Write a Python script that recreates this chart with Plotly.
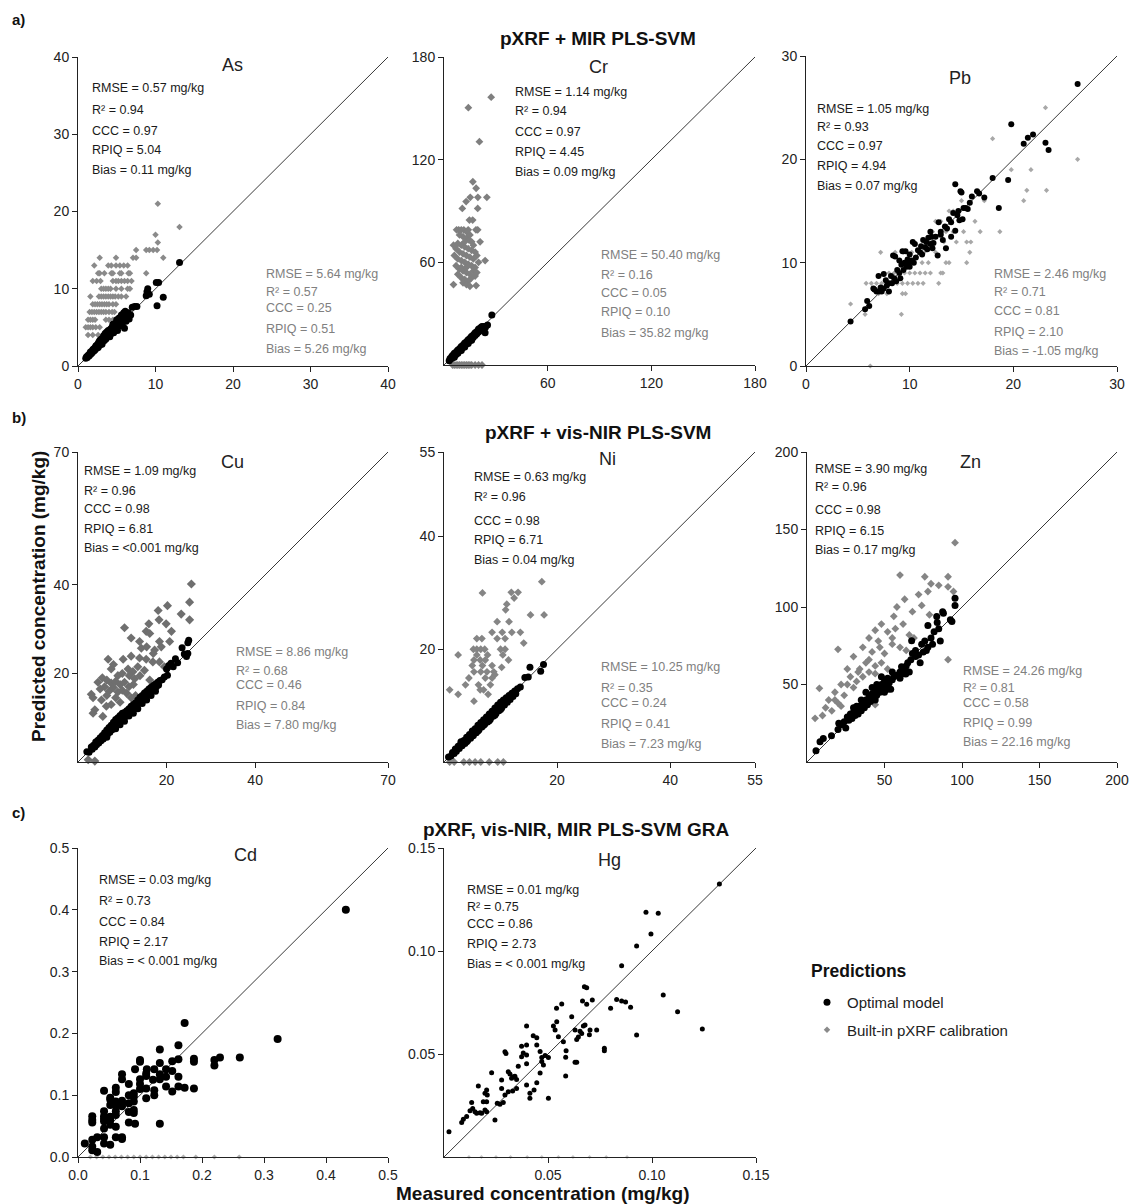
import plotly.graph_objects as go

W, H = 1130, 1204
FONT = "Liberation Sans, Arial, sans-serif"

# ---------------- data (measured, predicted) ----------------
AS_OPT = [(1.0,1.0),(1.1,1.2),(1.2,1.1),(1.3,1.4),(1.4,1.3),(1.5,1.6),(1.5,1.4),(1.6,1.8),(1.7,1.6),(1.8,1.9),
          (1.8,1.7),(1.9,2.1),(2.0,1.9),(2.0,2.2),(2.1,2.0),(2.2,2.4),(2.2,2.1),(2.3,2.6),(2.4,2.3),(2.4,2.7),
          (2.5,2.5),(2.6,2.9),(2.6,2.4),(2.7,3.1),(2.8,2.7),(2.8,3.3),(2.9,2.9),(3.0,3.5),(3.0,3.0),(3.1,2.8),
          (3.2,3.6),(3.2,3.2),(3.3,3.9),(3.4,3.3),(3.5,3.8),(3.5,4.2),(3.6,3.5),(3.7,4.4),(3.8,3.8),(3.9,4.6),
          (4.0,4.0),(4.0,4.4),(4.1,3.8),(4.2,4.8),(4.3,4.2),(4.4,5.0),(4.5,4.5),(4.5,5.4),(4.6,4.3),(4.7,5.1),
          (4.8,4.8),(4.9,5.6),(5.0,5.0),(5.0,6.0),(5.1,4.6),(5.2,5.5),(5.3,6.2),(5.4,5.2),(5.5,5.8),(5.6,6.6),
          (5.7,5.4),(5.8,6.1),(5.9,6.9),(6.0,4.9),(6.0,6.3),(6.1,7.1),(6.2,5.8),(6.3,6.5),(6.5,6.9),(6.6,6.1),
          (6.8,6.6),(7.0,7.6),(7.3,7.7),(7.6,7.7),(8.8,9.1),(9.0,10.0),(9.2,9.3),(8.9,9.6),(10.1,10.8),(10.4,10.8),
          (10.2,7.8),(11.0,8.9),(13.1,13.4)]
AS_REF = [(10.3,21),(13.1,18),(10.0,17),(10.3,16),(7.5,15),(8.8,15),(9.2,15),(9.7,15),(10.2,15),
          (2.8,14),(4.9,14),(7.1,14),(7.5,14),(11.0,14),
          (2.1,13),(3.9,13),(4.3,13),(4.9,13),(5.4,13),(5.9,13),(6.4,13),
          (2.6,12),(2.8,12),(3.4,12),(4.3,12),(4.5,12),(5.4,12),(5.6,12),(6.5,12),(6.7,12),(8.8,12),
          (1.9,11),(2.4,11),(2.9,11),(4.5,11),(4.9,11),(5.2,11),(5.6,11),(6.0,11),(6.4,11),(6.9,11),
          (3.0,10),(3.3,10),(3.6,10),(3.9,10),(4.2,10),(4.9,10),(5.6,10),(6.4,10),(6.7,10),
          (1.6,9),(2.7,9),(3.0,9),(3.3,9),(3.6,9),(3.9,9),(4.2,9),(4.5,9),(4.8,9),(5.2,9),(5.6,9),(6.2,9),
          (1.9,8),(2.2,8),(2.5,8),(2.8,8),(3.1,8),(3.4,8),(3.7,8),(4.0,8),(4.5,8),(4.9,8),
          (1.5,7),(1.8,7),(2.1,7),(2.4,7),(2.7,7),(3.0,7),(3.3,7),(3.6,7),(4.0,7),(4.4,7),(4.7,7),
          (1.3,6),(1.6,6),(1.9,6),(2.2,6),(3.6,6),(4.0,6),(4.5,6),
          (1.0,5),(1.3,5),(1.6,5),(1.9,5),(2.3,5),(2.8,5),(1.3,4),(1.9,4),(2.6,4)]

CR_OPT = [(3,2.5),(3.5,3.8),(4,3.5),(4.5,5),(5,4.2),(5,5.5),(5.5,6),(6,5.2),(6,6.8),(6.5,6),(7,7.5),(7,6.2),
          (7.5,8),(8,7.2),(8,8.8),(8.5,8),(9,9.5),(9,8.2),(9.5,10),(10,9.2),(10,10.8),(10.5,10),(11,11.5),
          (11,10.2),(11.5,12),(12,11.3),(12,12.8),(12.5,12),(13,13.5),(13,12.2),(13.5,14),(14,13.2),(14,14.8),
          (14.5,14),(15,15.5),(15,14.2),(15.5,16),(16,15.3),(16,16.8),(16.5,16),(17,17.5),(17,16.2),(17.5,18),
          (18,17.3),(18,18.8),(18.5,18),(19,19.5),(19,18.2),(19.5,20),(20,19.3),(20,21),(20.5,20.2),(21,21.5),
          (21,20.2),(21.5,22),(22,21.3),(22,22.5),(23,22.3),(23.5,22.5),(24,22),(23.8,18.9),(25.2,23.4),
          (27.7,29.2),(6,4.5),(8,6.8),(10,8.5),(12,10.5),(14,12.5),(16,14.5)]
CR_REF = [(27.3,156.5),(14.1,150.4),(20.5,130.5),(16.7,107.1),(18.6,103.3),(24.8,98),(15.2,98),(19.6,98),
          (12.8,95.5),(10.6,91.5),(19.5,91.5),(14.7,84.7),(16.6,84.7),(7.3,79),(8.5,79),(10,79),(11.5,79),
          (13,78),(14,79),(18.5,79),(19.5,79),(20.9,72),(9,76),(11,75),(13,74),(14.5,73),(16,72),(8,71),
          (10,70),(12,69),(14,68),(16,67),(18,66),(5.5,70),(7,68),(9,66),(11,65),(13,64),(15,63),(17,62),
          (19,64),(23.8,61),(8,62),(10,61),(12,60),(14,59),(16,58),(18,57),(7,58),(9,56),(11,55),(13,54),
          (15,53),(17,55),(19,54),(8,53),(10,51),(12,50),(14,49),(16,51),(18,52),(5.5,47),(11,48),(13,47),
          (15,46),(18.6,46.4),(20,60),(6,64),(12,72),(15,76),(17,70),(10,57),(13,57),
          (5,0),(6,0),(7,0),(8,0),(9,0),(10,0),(11,0),(12,0),(13,0),(14,0),(15,0),(16,0),(18,0),(20,0),(22,0)]

PB_OPT = [(4.3,4.3),(5.7,5.5),(5.9,6.3),(6.1,5.8),(6.5,7.5),(6.8,7.2),(6.6,7.4),(7.0,8.7),(7.0,7.2),(7.2,7.6),
          (7.3,7.2),(7.5,8.9),(7.5,7.5),(7.7,8.3),(7.8,7.8),(8.0,8.0),(8.0,7.2),(8.2,8.7),(8.3,8.0),(8.4,10.7),
          (8.5,8.5),(8.6,10.6),(8.7,8.2),(8.8,9.3),(9.0,9.0),(9.0,10.2),(9.1,8.5),(9.2,9.8),(9.3,11.1),(9.4,9.3),
          (9.5,10.0),(9.6,11.1),(9.7,9.6),(9.8,10.3),(9.9,9.9),(10.0,10.8),(10.0,9.6),(10.2,10.2),(10.3,12.0),
          (10.4,10.0),(10.5,11.8),(10.6,10.5),(10.8,11.2),(11.0,11.0),(11.1,11.6),(11.2,10.8),(11.3,12.2),
          (11.5,11.5),(11.6,12.0),(11.7,11.3),(11.8,12.4),(12.0,11.8),(12.0,13.0),(12.1,12.5),(12.2,11.4),
          (12.3,11.9),(12.5,12.5),(12.7,10.7),(12.8,13.9),(13.0,13.0),(13.0,12.7),(13.2,12.2),(13.4,13.5),
          (13.5,11.4),(13.6,13.3),(13.8,14.2),(14.0,12.5),(14.0,13.9),(14.2,14.8),(14.4,13.1),(14.4,17.6),
          (14.6,14.6),(14.7,15.0),(14.8,14.1),(14.9,16.9),(15.0,16.8),(15.1,14.2),(15.2,15.3),(15.4,15.3),
          (15.6,15.2),(15.8,15.8),(16.0,16.4),(16.5,16.9),(16.7,16.7),(17.2,16.3),(18.0,18.2),(18.6,15.3),
          (19.5,18.0),(19.8,23.4),(21.0,21.5),(21.4,22.1),(21.9,22.4),(23.1,21.6),(23.4,20.9),(26.2,27.3)]
PB_REF = [(4.3,6),(5.7,5),(9.2,5),(6.2,0),(7,7),(7.8,7),(9.3,7),(9.6,7),
          (5.8,8),(6.3,8),(6.8,8),(7.3,8),(7.8,8),(8.3,8),(8.8,8),(9.3,8),(9.8,8),(10.3,8),(10.8,8),(11.3,8),(12.8,8),
          (8.0,9),(8.5,9),(9.5,9),(10.0,9),(10.5,9),(11.0,9),(11.5,9),(12.0,9),(13.0,9),(13.2,9),
          (9.2,10),(10.0,10),(11.2,10),(11.8,10),(13.5,10),(13.8,10),(15.5,10),
          (7.2,11),(8.6,11),(9.4,11),(10.2,11),(11.4,11),(12.5,11),(15.8,11),
          (12.1,12),(13.3,12),(14.5,12),(15.5,12),(15.9,12),
          (12.2,13),(13.5,13),(14.2,13),(15.2,13),(16.8,13),(18.7,13),
          (12.5,14),(13.0,14),(14.0,14),(16.3,14),(13.8,15),(14.2,15),(15,16),(17.2,16),(21,16),
          (21.3,17),(23.2,17),(19.8,19),(21.7,19),(26.2,20),(18.0,22),(23.1,25)]

CU_OPT = [(2.0,2.3),(2.5,2.2),(3.0,3.4),(3.2,2.9),(3.5,3.8),(3.8,3.4),(4.0,4.5),(4.2,3.9),(4.5,4.9),(4.7,4.3),
          (5.0,5.5),(5.2,4.8),(5.5,6.0),(5.7,5.2),(6.0,6.6),(6.2,5.8),(6.5,7.2),(6.7,6.3),(7.0,7.8),(7.2,6.7),
          (7.5,8.3),(7.7,7.3),(8.0,9.0),(8.2,7.8),(8.5,9.6),(8.7,8.3),(9.0,10.0),(9.2,8.8),(9.5,10.5),(9.7,9.3),
          (10.0,11.0),(10.2,9.8),(10.5,11.2),(10.7,10.3),(11.0,11.6),(11.2,10.6),(11.5,12.0),(11.7,11.2),
          (12.0,12.6),(12.2,11.6),(12.5,13.0),(12.7,12.2),(13.0,13.4),(13.2,12.6),(13.5,14.0),(13.7,13.2),
          (14.0,14.6),(14.2,13.7),(14.5,15.0),(14.7,14.2),(15.0,15.6),(15.2,14.6),(15.5,16.0),(15.7,15.1),
          (16.0,16.5),(16.2,15.6),(16.5,16.9),(16.7,16.2),(17.0,17.3),(17.2,16.6),(17.5,17.6),(17.7,17.0),
          (18.0,18.0),(18.2,17.4),(18.5,18.4),(19.0,18.6),(19.5,19.2),(20.0,21.0),(20.2,19.6),(20.5,21.8),
          (21.0,22.3),(21.5,21.5),(22.0,23.3),(22.5,22.4),(23.5,25.8),(24.0,24.4),(24.5,23.8),(24.8,24.5),
          (24.8,26.9),(25.0,27.5),(8.5,7.5),(10.5,9.2),(12.5,11.0),(14.5,13.2),(16.5,15.0),(6.5,5.6),
          (9.5,8.4),(11.5,10.4),(13.5,12.0),(15.5,14.0),(17.5,16.0)]
CU_REF = [(25.6,40.2),(25.2,36.1),(20.2,35.3),(18.1,34.2),(23.3,33.4),(25.2,32.1),(18.3,32.1),(16.0,31.2),
          (19.9,31.2),(10.5,30.3),(15.4,29.5),(16.2,29.0),(21.1,29.5),(12.0,28.0),(13.9,27.2),(14.3,25.7),
          (18.4,27.2),(20.7,27.2),(17.3,25.3),(18.8,26.0),(6.8,23.2),(10.2,23.2),(12.0,23.9),(13.9,23.5),
          (15.4,23.2),(16.9,22.6),(18.4,22.6),(7.5,21.0),(11.3,21.0),(12.4,20.4),(9.0,19.5),(11.6,19.5),
          (15.0,20.7),(16.2,18.5),(4.5,18.0),(5.5,19.0),(6.5,18.5),(7.5,17.8),(8.5,18.2),(9.5,17.5),
          (10.5,18.0),(11.5,17.0),(12.5,17.5),(5.0,16.5),(6.0,17.0),(7.0,16.0),(8.0,16.8),(9.0,15.8),
          (10.0,16.2),(11.0,15.5),(12.0,14.5),(13.0,15.0),(6.5,15.0),(8.5,14.5),(3.0,15.3),(3.4,14.5),
          (5.3,14.0),(6.4,12.6),(3.8,11.8),(3.4,11.0),(5.6,10.3),(11.3,11.0),(7.5,13.0),(9.5,13.5),
          (14.0,19.5),(13.5,21.5),(17.0,24.5),(15.5,26.0),(2.3,0.5),(3.8,0.2),(8.0,22.0),(10.0,20.0),
          (12.8,18.8),(19.5,21.5)]

NI_OPT = [(0.8,0.9),(1.2,1.0),(1.5,1.7),(1.8,1.5),(2.0,2.3),(2.2,1.9),(2.5,2.8),(2.7,2.4),(3.0,3.3),(3.2,2.9),
          (3.5,3.8),(3.7,3.3),(4.0,4.4),(4.2,3.8),(4.5,4.9),(4.7,4.2),(5.0,5.5),(5.2,4.7),(5.5,5.9),(5.7,5.2),
          (6.0,6.5),(6.2,5.7),(6.5,7.0),(6.7,6.2),(7.0,7.5),(7.2,6.7),(7.5,8.0),(7.7,7.1),(8.0,8.5),(8.2,7.6),
          (8.5,9.0),(8.7,8.1),(9.0,9.6),(9.2,8.6),(9.5,10.1),(9.7,9.1),(10.0,10.6),(10.2,9.6),(10.5,11.0),
          (10.7,10.1),(11.0,11.4),(11.2,10.6),(11.5,11.8),(11.7,11.1),(12.0,12.2),(12.2,11.6),(12.5,12.6),
          (12.7,12.1),(13.0,13.0),(13.5,13.3),(14.3,15.0),(14.9,15.1),(15.2,16.8),(17.1,16.1),(17.6,17.3),
          (3.0,3.6),(4.0,3.6),(5.0,4.6),(6.0,5.5),(7.0,6.5),(8.0,7.3),(9.0,8.3),(10.0,9.3),(6.5,6.5),
          (7.5,7.5),(8.5,8.5),(9.5,9.5),(10.5,10.5)]
NI_REF = [(17.3,32.0),(6.8,30.0),(11.9,30.1),(13.1,30.1),(12.4,29.1),(11.1,28.0),(10.9,27.0),(15.3,26.1),
          (17.7,26.1),(9.4,24.9),(11.5,24.9),(8.5,23.0),(10.3,23.0),(12.0,23.0),(13.5,23.0),(5.8,21.9),
          (6.7,21.9),(9.4,21.9),(10.8,21.9),(14.1,21.1),(5.2,20.0),(5.8,20.0),(6.5,20.0),(7.2,20.0),
          (10.0,20.0),(10.8,20.0),(2.5,19.0),(5.8,19.0),(7.7,19.0),(10.4,19.0),(5.3,18.1),(6.4,18.1),
          (7.3,18.1),(11.4,18.1),(5.0,17.1),(6.8,17.1),(8.5,17.1),(10.2,16.8),(5.3,16.0),(6.5,16.0),
          (7.6,16.0),(8.8,16.0),(9.0,15.5),(4.4,14.9),(7.3,14.9),(8.5,14.9),(3.8,13.7),(6.1,13.7),
          (8.2,13.7),(1.0,12.8),(6.4,12.8),(7.0,12.8),(2.5,12.0),(7.8,12.0),(5.3,10.8),
          (1,0),(1.8,0),(3.5,0),(4.5,0),(5.5,0),(6.5,0),(8,0),(9.5,0),(10.5,0)]

ZN_OPT = [(5.8,7.3),(8.4,13.0),(10.5,15.2),(15.8,16.9),(20,21),(20.5,25),(22,24),(24,26),(25,22),(26,29),
          (27,27),(28,31),(29,28),(30,32),(31,30),(32,34),(33,31),(34,36),(35,33),(36,38),(37,35),(38,40),
          (39,37),(40,42),(41,39),(42,44),(43,41),(44,46),(45,43),(46,48),(47,45),(48,50),(49,47),(50,52),
          (50,45),(51,49),(52,54),(53,51),(54,47),(55,53),(56,55),(58,56),(60,58),(62,57),(63,60),(64,62),
          (65,64),(66,58),(67,66),(68,70),(70,72),(72,69),(74,76),(75,71),(76,78),(78,74),(78,88),(80,80),
          (81,76),(82,84),(84,90),(85,86),(86,78),(88,96),(92.5,91.8),(93.5,90.7),(95.5,105.6),(95.5,101),
          (38,45),(42,48),(30,35),(48,55),(55,58),(45,50),(35,40),(32,36),(44,40),(52,47),(60,54),(70,68),
          (73,64),(77,72),(67.5,78.3),(61,61.5),(63.7,56.7),(50.3,52.9),(87.5,97),(83.7,93.8)]
ZN_REF = [(95.5,141.5),(60,120.6),(76,119.5),(91,119.5),(80,115),(85,114),(91,113),(94.5,110),(78,110),
          (72,108),(63,105),(58,100),(74,101),(68,97),(79,95),(56,94),(48,89),(62,89),(44,85),(52,84),
          (57,86),(66,82),(69,80),(40,80),(46,78),(55,76),(60,74),(64,72),(36,74),(42,71),(50,70),(20,72.7),
          (30,68),(38,64),(44,62),(48,64),(52,60),(40,58),(34,60),(26,60),(28,55),(36,55),(44,57),(22,50),
          (30,48),(8,47.5),(18,45),(24,43),(14,40),(20,38),(12,35),(16,33),(22,36),(5.2,28.2),(10,30),
          (91,66),(44,37),(32,52),(40,66),(55,80),(47,74),(33,58),(26,50),(18,40)]

CD_OPT = [(0.432,0.400),(0.322,0.191),(0.261,0.161),(0.229,0.161),(0.220,0.157),(0.220,0.148),(0.187,0.159),
          (0.187,0.154),(0.187,0.111),(0.172,0.217),(0.162,0.181),(0.162,0.158),(0.172,0.112),(0.152,0.155),
          (0.152,0.106),(0.162,0.130),(0.162,0.114),(0.132,0.174),(0.132,0.152),(0.132,0.134),(0.132,0.126),
          (0.132,0.054),(0.142,0.142),(0.142,0.114),(0.123,0.142),(0.123,0.100),(0.111,0.142),(0.100,0.157),
          (0.100,0.154),(0.110,0.135),(0.110,0.131),(0.100,0.126),(0.100,0.118),(0.110,0.111),(0.110,0.095),
          (0.092,0.142),(0.090,0.103),(0.090,0.098),(0.090,0.090),(0.090,0.076),(0.090,0.071),(0.092,0.054),
          (0.082,0.118),(0.082,0.100),(0.082,0.073),(0.082,0.056),(0.071,0.134),(0.071,0.126),(0.071,0.091),
          (0.071,0.082),(0.071,0.032),(0.071,0.029),(0.061,0.112),(0.061,0.105),(0.061,0.090),(0.061,0.083),
          (0.061,0.074),(0.061,0.032),(0.052,0.096),(0.052,0.093),(0.052,0.084),(0.052,0.065),(0.052,0.052),
          (0.052,0.020),(0.042,0.107),(0.042,0.074),(0.042,0.066),(0.042,0.058),(0.042,0.046),(0.042,0.032),
          (0.042,0.022),(0.031,0.032),(0.031,0.008),(0.023,0.066),(0.023,0.060),(0.023,0.056),(0.023,0.028),
          (0.023,0.017),(0.023,0.011),(0.011,0.022),(0.061,0.049),(0.142,0.130),(0.152,0.139),(0.123,0.108),
          (0.052,0.060),(0.042,0.062),(0.061,0.068),(0.082,0.087),(0.100,0.110),(0.121,0.125)]
CD_REF = [(0.02,0),(0.03,0),(0.04,0),(0.05,0),(0.06,0),(0.07,0),(0.08,0),(0.09,0),(0.10,0),(0.11,0),
          (0.12,0),(0.13,0),(0.14,0),(0.15,0),(0.16,0),(0.17,0),(0.19,0),(0.22,0),(0.26,0)]

HG_OPT = [(0.1324,0.1325),(0.0971,0.1188),(0.1030,0.1183),(0.0995,0.1083),(0.0926,0.1024),(0.0854,0.0929),
          (0.0675,0.0827),(0.0686,0.0822),(0.0666,0.0757),(0.0686,0.0741),(0.0713,0.0762),(0.1054,0.0786),
          (0.0830,0.0764),(0.0854,0.0757),(0.0873,0.0752),(0.0801,0.0722),(0.0897,0.0727),(0.1123,0.0705),
          (0.1242,0.0621),(0.0926,0.0592),(0.0771,0.0528),(0.0771,0.0516),(0.0614,0.0681),(0.0566,0.0743),
          (0.0541,0.0722),(0.0526,0.0636),(0.0542,0.0657),(0.0534,0.0617),(0.0550,0.0584),(0.0574,0.0560),
          (0.0587,0.0516),(0.0585,0.0484),(0.0585,0.0393),(0.0630,0.0617),(0.0638,0.0570),(0.0646,0.0583),
          (0.0654,0.0610),(0.0662,0.0600),(0.0670,0.0636),(0.0678,0.0641),(0.0638,0.0460),(0.0702,0.0617),
          (0.0699,0.0593),(0.0734,0.0617),(0.0397,0.0636),(0.0397,0.0544),(0.0397,0.0495),(0.0373,0.0487),
          (0.0397,0.0453),(0.0397,0.0350),(0.0413,0.0309),(0.0413,0.0285),(0.0433,0.0325),(0.0446,0.0361),
          (0.0429,0.0589),(0.0446,0.0579),(0.0446,0.0544),(0.0462,0.0512),(0.0470,0.0483),(0.0470,0.0464),
          (0.0478,0.0447),(0.0462,0.0408),(0.0486,0.0493),(0.0502,0.0483),(0.0373,0.0538),(0.0381,0.0505),
          (0.0357,0.0440),(0.0341,0.0392),(0.0349,0.0376),(0.0293,0.0511),(0.0298,0.0503),(0.0309,0.0414),
          (0.0317,0.0403),(0.0325,0.0382),(0.0333,0.0390),(0.0349,0.0333),(0.0277,0.0374),(0.0277,0.0333),
          (0.0285,0.0265),(0.0293,0.0301),(0.0309,0.0317),(0.0330,0.0320),(0.0229,0.0409),(0.0256,0.0261),
          (0.0269,0.0256),(0.0245,0.0180),(0.0165,0.0345),(0.0205,0.0325),(0.0197,0.0309),(0.0208,0.0301),
          (0.0189,0.0268),(0.0205,0.0268),(0.0197,0.0228),(0.0205,0.0220),(0.0133,0.0264),(0.0138,0.0236),
          (0.0149,0.0220),(0.0157,0.0212),(0.0173,0.0215),(0.0181,0.0212),(0.0125,0.0225),(0.0109,0.0196),
          (0.0093,0.0183),(0.0085,0.0167),(0.0024,0.0123),(0.0502,0.0285),(0.0630,0.0460)]
HG_REF = [(0.012,0),(0.018,0),(0.025,0),(0.032,0),(0.040,0),(0.047,0),(0.055,0),(0.062,0),(0.070,0),
          (0.078,0),(0.088,0)]

STATS_OPT = {
    "As": ["0.57 mg/kg", "0.94", "0.97", "5.04", "0.11 mg/kg"],
    "Cr": ["1.14 mg/kg", "0.94", "0.97", "4.45", "0.09 mg/kg"],
    "Pb": ["1.05 mg/kg", "0.93", "0.97", "4.94", "0.07 mg/kg"],
    "Cu": ["1.09 mg/kg", "0.96", "0.98", "6.81", "&lt;0.001 mg/kg"],
    "Ni": ["0.63 mg/kg", "0.96", "0.98", "6.71", "0.04 mg/kg"],
    "Zn": ["3.90 mg/kg", "0.96", "0.98", "6.15", "0.17 mg/kg"],
    "Cd": ["0.03 mg/kg", "0.73", "0.84", "2.17", "&lt; 0.001 mg/kg"],
    "Hg": ["0.01 mg/kg", "0.75", "0.86", "2.73", "&lt; 0.001 mg/kg"],
}
STATS_REF = {
    "As": ["5.64 mg/kg", "0.57", "0.25", "0.51", "5.26 mg/kg"],
    "Cr": ["50.40 mg/kg", "0.16", "0.05", "0.10", "35.82 mg/kg"],
    "Pb": ["2.46 mg/kg", "0.71", "0.81", "2.10", "-1.05 mg/kg"],
    "Cu": ["8.86 mg/kg", "0.68", "0.46", "0.84", "7.80 mg/kg"],
    "Ni": ["10.25 mg/kg", "0.35", "0.24", "0.41", "7.23 mg/kg"],
    "Zn": ["24.26 mg/kg", "0.81", "0.58", "0.99", "22.16 mg/kg"],
}
STAT_NAMES = ["RMSE", "R²", "CCC", "RPIQ", "Bias"]

ELEMENTS = ["As", "Cr", "Pb", "Cu", "Ni", "Zn", "Cd", "Hg"]
AXIS_MAX = [40, 180, 30, 70, 55, 200, 0.5, 0.15]
TICKS = [[0, 10, 20, 30, 40], [60, 120, 180], [0, 10, 20, 30], [20, 40, 70], [20, 40, 55],
         [50, 100, 150, 200], [0, 0.1, 0.2, 0.3, 0.4, 0.5], [0.05, 0.10, 0.15]]
TICK_TEXT = [["0", "10", "20", "30", "40"], ["60", "120", "180"], ["0", "10", "20", "30"],
             ["20", "40", "70"], ["20", "40", "55"], ["50", "100", "150", "200"],
             ["0.0", "0.1", "0.2", "0.3", "0.4", "0.5"], ["0.05", "0.10", "0.15"]]
DATA_OPT = [AS_OPT, CR_OPT, PB_OPT, CU_OPT, NI_OPT, ZN_OPT, CD_OPT, HG_OPT]
DATA_REF = [AS_REF, CR_REF, PB_REF, CU_REF, NI_REF, ZN_REF, CD_REF, HG_REF]

GROUP_TITLES = ["pXRF + MIR PLS-SVM", "pXRF + vis-NIR PLS-SVM", "pXRF, vis-NIR, MIR PLS-SVM GRA"]
PANEL_LETTERS = ["a)", "b)", "c)"]
LEGEND_TITLE = "Predictions"

# ---------------- layout (pixel geometry) ----------------
BOXES = [(78, 57, 388, 366), (444, 57, 755, 365), (806, 56, 1117, 366),
         (78, 452, 388, 762), (444, 452, 755, 762), (807, 452, 1117, 762),
         (78, 848, 388, 1157), (444, 848, 756, 1157)]
OPT_SIZE = [7, 7, 6, 7, 7, 7, 8, 5]
REF_SIZE = [5, 6, 4, 7, 6, 6, 4, 3]
REF_COLOR = ["#8a8a8a", "#7f7f7f", "#a8a8a8", "#6f6f6f", "#858585", "#858585", "#b0b0b0", "#c4c4c4"]
LABEL_POS = [(232, 65), (598, 67), (960, 78), (232, 462), (607, 459), (970, 462), (245, 855), (609, 860)]
STAT_OPT_POS = {"As": (90, [88, 110, 131, 150, 170]), "Cr": (513, [92, 111, 132, 152, 172]),
                "Pb": (815, [109, 127, 146, 166, 186]), "Cu": (82, [471, 491, 509, 529, 548]),
                "Ni": (472, [477, 497, 521, 540, 560]), "Zn": (813, [469, 487, 510, 531, 550]),
                "Cd": (97, [880, 901, 922, 942, 961]), "Hg": (465, [890, 907, 924, 944, 964])}
STAT_REF_POS = {"As": (264, [274, 292, 308, 329, 349]), "Cr": (599, [255, 275, 293, 312, 333]),
                "Pb": (992, [274, 292, 311, 332, 351]), "Cu": (234, [652, 671, 685, 706, 725]),
                "Ni": (599, [667, 688, 703, 724, 744]), "Zn": (961, [671, 688, 703, 723, 742])}
TITLE_POS = [(598, 38), (598, 433), (576, 829)]
LETTER_POS = [(10, 20), (10, 417), (10, 812)]


def px(x):
    return x / W


def py(y):
    return 1 - y / H


fig = go.Figure()
annotations = []
layout_axes = {}

for i, el in enumerate(ELEMENTS):
    n = "" if i == 0 else str(i + 1)
    xa, ya = "x" + n, "y" + n
    l, t, r, b = BOXES[i]
    vmax = AXIS_MAX[i]
    common = dict(range=[0, vmax], showgrid=False, zeroline=False, automargin=False,
                  showline=True, linecolor="#222", linewidth=1, ticks="outside", ticklen=5,
                  tickcolor="#222", tickvals=TICKS[i], ticktext=TICK_TEXT[i],
                  tickfont=dict(family=FONT, size=14, color="#222"))
    layout_axes["xaxis" + n] = dict(domain=[px(l), px(r)], anchor=ya, **common)
    layout_axes["yaxis" + n] = dict(domain=[py(b), py(t)], anchor=xa, **common)

    fig.add_trace(go.Scatter(x=[0, vmax], y=[0, vmax], mode="lines", xaxis=xa, yaxis=ya,
                             line=dict(color="#222", width=0.9), showlegend=False, hoverinfo="skip"))
    ref = DATA_REF[i]
    fig.add_trace(go.Scatter(
        x=[p[0] for p in ref], y=[p[1] for p in ref], mode="markers", xaxis=xa, yaxis=ya,
        name="Built-in pXRF calibration", legendgroup="ref", legendrank=2, showlegend=(i == 0),
        cliponaxis=False,
        marker=dict(symbol="diamond", size=REF_SIZE[i], color=REF_COLOR[i], line=dict(width=0))))
    opt = DATA_OPT[i]
    fig.add_trace(go.Scatter(
        x=[p[0] for p in opt], y=[p[1] for p in opt], mode="markers", xaxis=xa, yaxis=ya,
        name="Optimal model", legendgroup="opt", legendrank=1, showlegend=(i == 0), cliponaxis=False,
        marker=dict(symbol="circle", size=OPT_SIZE[i], color="black", line=dict(width=0))))

    lx, ly = LABEL_POS[i]
    annotations.append(dict(x=px(lx), y=py(ly), xref="paper", yref="paper", text=el, showarrow=False,
                            xanchor="center", yanchor="middle",
                            font=dict(family=FONT, size=18, color="#222")))
    sx, sys_ = STAT_OPT_POS[el]
    for name, val, yy in zip(STAT_NAMES, STATS_OPT[el], sys_):
        annotations.append(dict(x=px(sx), y=py(yy), xref="paper", yref="paper",
                                text=f"{name} = {val}", showarrow=False, xanchor="left",
                                yanchor="middle", font=dict(family=FONT, size=12.5, color="#1a1a1a")))
    if el in STATS_REF:
        sx, sys_ = STAT_REF_POS[el]
        for name, val, yy in zip(STAT_NAMES, STATS_REF[el], sys_):
            annotations.append(dict(x=px(sx), y=py(yy), xref="paper", yref="paper",
                                    text=f"{name} = {val}", showarrow=False, xanchor="left",
                                    yanchor="middle", font=dict(family=FONT, size=12.5, color="#808080")))

for (tx, ty), title in zip(TITLE_POS, GROUP_TITLES):
    annotations.append(dict(x=px(tx), y=py(ty), xref="paper", yref="paper", text=f"<b>{title}</b>",
                            showarrow=False, xanchor="center", yanchor="middle",
                            font=dict(family=FONT, size=19, color="#111")))
for (tx, ty), letter in zip(LETTER_POS, PANEL_LETTERS):
    annotations.append(dict(x=px(tx), y=py(ty), xref="paper", yref="paper", text=f"<b>{letter}</b>",
                            showarrow=False, xanchor="left", yanchor="middle",
                            font=dict(family=FONT, size=15, color="#111")))

annotations.append(dict(x=px(38), y=py(597), xref="paper", yref="paper",
                        text="<b>Predicted concentration (mg/kg)</b>", textangle=-90, showarrow=False,
                        xanchor="center", yanchor="middle", font=dict(family=FONT, size=19, color="#111")))
annotations.append(dict(x=px(543), y=py(1193), xref="paper", yref="paper",
                        text="<b>Measured concentration (mg/kg)</b>", showarrow=False,
                        xanchor="center", yanchor="middle", font=dict(family=FONT, size=19, color="#111")))
annotations.append(dict(x=px(809), y=py(971), xref="paper", yref="paper",
                        text=f"<b>{LEGEND_TITLE}</b>", showarrow=False,
                        xanchor="left", yanchor="middle", font=dict(family=FONT, size=17.5, color="#111")))

fig.update_layout(
    width=W, height=H, margin=dict(l=0, r=0, t=0, b=0, pad=0, autoexpand=False),
    paper_bgcolor="white", plot_bgcolor="white",
    annotations=annotations,
    legend=dict(x=px(807), y=py(986), xanchor="left", yanchor="top", traceorder="grouped",
                font=dict(family=FONT, size=15, color="#222"), tracegroupgap=5,
                bgcolor="rgba(0,0,0,0)"),
    **layout_axes,
)

fig.write_html("out.html")
